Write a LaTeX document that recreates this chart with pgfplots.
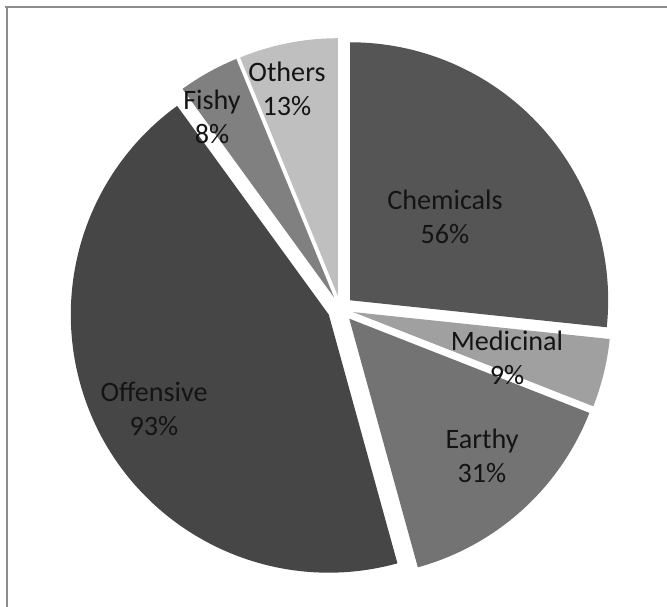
\documentclass[border=0pt]{standalone}
\usepackage{pgfplots}
\pgfplotsset{compat=1.18}
\usepackage{pgfplotstable}
\usepackage{fontspec}
\setmainfont{Carlito}
\definecolor{cChem}{HTML}{555555}
\definecolor{cMed}{HTML}{A0A0A0}
\definecolor{cEarth}{HTML}{737373}
\definecolor{cOff}{HTML}{464646}
\definecolor{cFish}{HTML}{808080}
\definecolor{cOth}{HTML}{BFBFBF}
\definecolor{frame}{HTML}{8C8C8C}
\definecolor{txt}{HTML}{141414}

\pgfplotstableread{
label value color
Chemicals 56 cChem
Medicinal 9 cMed
Earthy 31 cEarth
Offensive 93 cOff
Fishy 8 cFish
Others 13 cOth
}\piedata

\begin{document}
\begin{tikzpicture}
% compute cumulative angles (clockwise from 12 o'clock)
\def\mytotal{0}
\pgfplotsforeachungrouped \i in {0,...,5}{%
  \pgfplotstablegetelem{\i}{value}\of\piedata
  \pgfmathsetmacro\mytotal{\mytotal+\pgfplotsretval}%
}
\def\mycum{0}
\pgfplotsforeachungrouped \i in {0,...,5}{%
  \pgfplotstablegetelem{\i}{value}\of\piedata
  \let\myv\pgfplotsretval
  \pgfplotstablegetelem{\i}{color}\of\piedata
  \expandafter\xdef\csname col\i\endcsname{\pgfplotsretval}%
  \pgfmathsetmacro\mysa{90-(\mycum/\mytotal)*360}%
  \pgfmathsetmacro\mycum{\mycum+\myv}%
  \pgfmathsetmacro\myea{90-(\mycum/\mytotal)*360}%
  \pgfmathsetmacro\mymid{(\mysa+\myea)/2}%
  \expandafter\xdef\csname sa\i\endcsname{\mysa}%
  \expandafter\xdef\csname ea\i\endcsname{\myea}%
  \expandafter\xdef\csname mid\i\endcsname{\mymid}%
}
\def\R{3.868cm}
\def\dd{0.195cm}
\begin{axis}[
  width=10cm, height=9.1004cm, scale only axis,
  xmin=0, xmax=667, ymin=0, ymax=607,
  enlargelimits=false, hide axis, clip=false,
]
\pgfplotsinvokeforeach{0,...,5}{
  \fill[\csname col#1\endcsname] (axis cs:340.5,298) ++(\csname mid#1\endcsname:\dd)
    -- ++(\csname sa#1\endcsname:\R)
    arc[start angle=\csname sa#1\endcsname, end angle=\csname ea#1\endcsname, radius=\R]
    -- cycle;
}
\draw[frame, line width=0.85pt] (axis cs:5,600) -- (axis cs:667,600);
\draw[frame, line width=0.85pt] (axis cs:7,600) -- (axis cs:7,0);
\begin{scope}[every node/.style={align=center, text=txt, font=\fontsize{12}{14.3}\selectfont, inner sep=0pt}]
\node at (axis cs:445,390) {Chemicals\\56\%};
\node at (axis cs:507,249) {Medicinal\\9\%};
\node at (axis cs:482,151) {Earthy\\31\%};
\node at (axis cs:154,198) {Offensive\\93\%};
\node at (axis cs:212,490) {Fishy\\8\%};
\node at (axis cs:287,518) {Others\\13\%};
\end{scope}
\end{axis}
\pgfresetboundingbox
\path (current axis.south west) rectangle (current axis.north east);
\end{tikzpicture}
\end{document}
